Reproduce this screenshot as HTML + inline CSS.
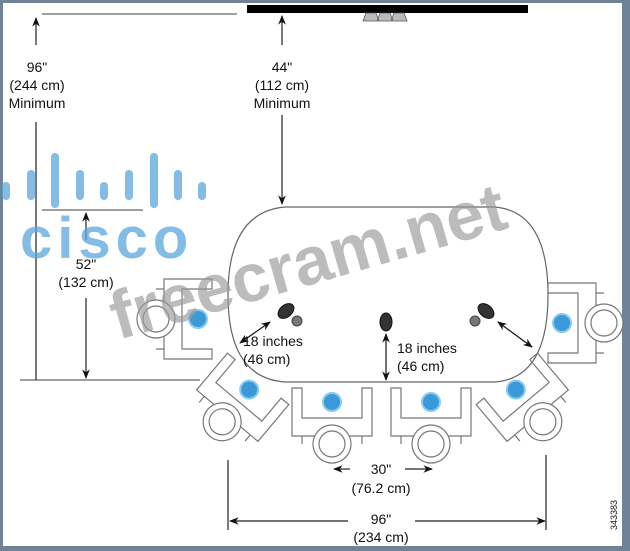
<!DOCTYPE html>
<html><head><style>
html,body{margin:0;padding:0;background:#fff}
svg{display:block}
text{font-family:"Liberation Sans",sans-serif;fill:#111}
</style></head><body>
<svg width="630" height="551" viewBox="0 0 630 551" xmlns="http://www.w3.org/2000/svg">
<defs>
<marker id="a" viewBox="0 0 10 10" refX="9" refY="5" markerWidth="8" markerHeight="8" orient="auto-start-reverse"><path d="M0,1 L10,5 L0,9 L3,5 z" fill="#111"/></marker>
<g id="chair" fill="none" stroke="#777" stroke-width="1.2">
<path d="M-40,-8 h10 v30 h60 v-30 h10 v48 h-80 z"/>
<path d="M-30,40 v8 M30,40 v8"/>
<circle cx="0" cy="48" r="19" fill="#fff"/>
<circle cx="0" cy="48" r="13"/>
<circle cx="0" cy="6" r="9" fill="#3a9ad9" stroke="#8ccaf0" stroke-width="2"/>
</g>
</defs>
<rect x="0" y="0" width="630" height="551" fill="#6e8398"/>
<rect x="3" y="3" width="619" height="543" fill="#fff"/>
<rect x="247" y="5" width="281" height="8" fill="#000"/>
<g fill="#bbb" stroke="#555" stroke-width="0.8"><path d="M366,13 h10 l3,8 h-16z M380,13 h10 l3,8 h-16z M394,13 h10 l3,8 h-16z"/></g>
<g stroke="#666" stroke-width="1.2" fill="none">
<line x1="42" y1="14" x2="237" y2="14"/>
<line x1="42" y1="210" x2="143" y2="210"/>
<line x1="20" y1="380" x2="200" y2="380"/>
</g>
<g stroke="#222" stroke-width="1.2" fill="none">
<line x1="36" y1="122" x2="36" y2="380"/>
<line x1="36" y1="45" x2="36" y2="18" marker-end="url(#a)"/>
<line x1="86" y1="240" x2="86" y2="213" marker-end="url(#a)"/>
<line x1="86" y1="298" x2="86" y2="378" marker-end="url(#a)"/>
<line x1="282" y1="45" x2="282" y2="16" marker-end="url(#a)"/>
<line x1="282" y1="115" x2="282" y2="204" marker-end="url(#a)"/>
</g>
<g font-size="14" text-anchor="middle">
<text x="37" y="72">96"</text><text x="37" y="90">(244 cm)</text><text x="37" y="108">Minimum</text>
<text x="282" y="72">44"</text><text x="282" y="90">(112 cm)</text><text x="282" y="108">Minimum</text>
<text x="86" y="269">52"</text><text x="86" y="287">(132 cm)</text>
</g>
<path d="M285,207 L495,207 Q548,212 548,295 Q548,378 495,382 L285,382 Q228,378 228,295 Q228,212 285,207 Z" fill="none" stroke="#666" stroke-width="1.2"/>
<use href="#chair" transform="translate(332,396)"/>
<use href="#chair" transform="translate(431,396)"/>
<use href="#chair" transform="translate(253,385) rotate(40)"/>
<use href="#chair" transform="translate(512,385) rotate(-40)"/>
<use href="#chair" transform="translate(204,319) rotate(90)"/>
<use href="#chair" transform="translate(556,323) rotate(-90)"/>
<g fill="#333" stroke="#111"><ellipse cx="286" cy="311" rx="9" ry="6" transform="rotate(-40 286 311)"/><ellipse cx="386" cy="322" rx="6" ry="9"/><ellipse cx="486" cy="311" rx="9" ry="6" transform="rotate(40 486 311)"/></g>
<g fill="#777" stroke="#444"><circle cx="297" cy="321" r="5"/><circle cx="475" cy="321" r="5"/></g>
<g stroke="#111" stroke-width="1.2" fill="none">
<line x1="270" y1="322" x2="240" y2="343" marker-start="url(#a)" marker-end="url(#a)"/>
<line x1="498" y1="322" x2="532" y2="347" marker-start="url(#a)" marker-end="url(#a)"/>
<line x1="386" y1="334" x2="386" y2="380" marker-start="url(#a)" marker-end="url(#a)"/>
</g>
<g font-size="14">
<text x="243" y="346">18 inches</text><text x="243" y="364">(46 cm)</text>
<text x="397" y="353">18 inches</text><text x="397" y="371">(46 cm)</text>
</g>
<g stroke="#222" stroke-width="1.2" fill="none">
<line x1="228" y1="460" x2="228" y2="530"/>
<line x1="546" y1="455" x2="546" y2="530"/>
<line x1="350" y1="469" x2="334" y2="469" marker-end="url(#a)"/>
<line x1="405" y1="469" x2="432" y2="469" marker-end="url(#a)"/>
<line x1="348" y1="521" x2="230" y2="521" marker-end="url(#a)"/>
<line x1="415" y1="521" x2="545" y2="521" marker-end="url(#a)"/>
</g>
<g font-size="14" text-anchor="middle">
<text x="381" y="474">30"</text><text x="381" y="493">(76.2 cm)</text>
<text x="381" y="524">96"</text><text x="381" y="542">(234 cm)</text>
</g>
<text x="0" y="0" font-size="9" transform="translate(617,530) rotate(-90)">343383</text>
<g fill="#5aa6db" opacity="0.75">
<rect x="2" y="182" width="8" height="18" rx="4"/><rect x="27" y="170" width="8" height="30" rx="4"/><rect x="51" y="153" width="8" height="55" rx="4"/><rect x="76" y="170" width="8" height="30" rx="4"/><rect x="100" y="182" width="8" height="18" rx="4"/><rect x="125" y="170" width="8" height="30" rx="4"/><rect x="150" y="153" width="8" height="55" rx="4"/><rect x="174" y="170" width="8" height="30" rx="4"/><rect x="198" y="182" width="8" height="18" rx="4"/>
<text x="20" y="258" font-size="58" font-weight="bold" style="fill:#5aa6db" letter-spacing="5">cisco</text>
</g>
<text x="0" y="0" font-size="68" font-weight="bold" style="fill:#999" opacity="0.65" transform="translate(118,340) rotate(-16)">freecram.net</text>
</svg>
</body></html>
